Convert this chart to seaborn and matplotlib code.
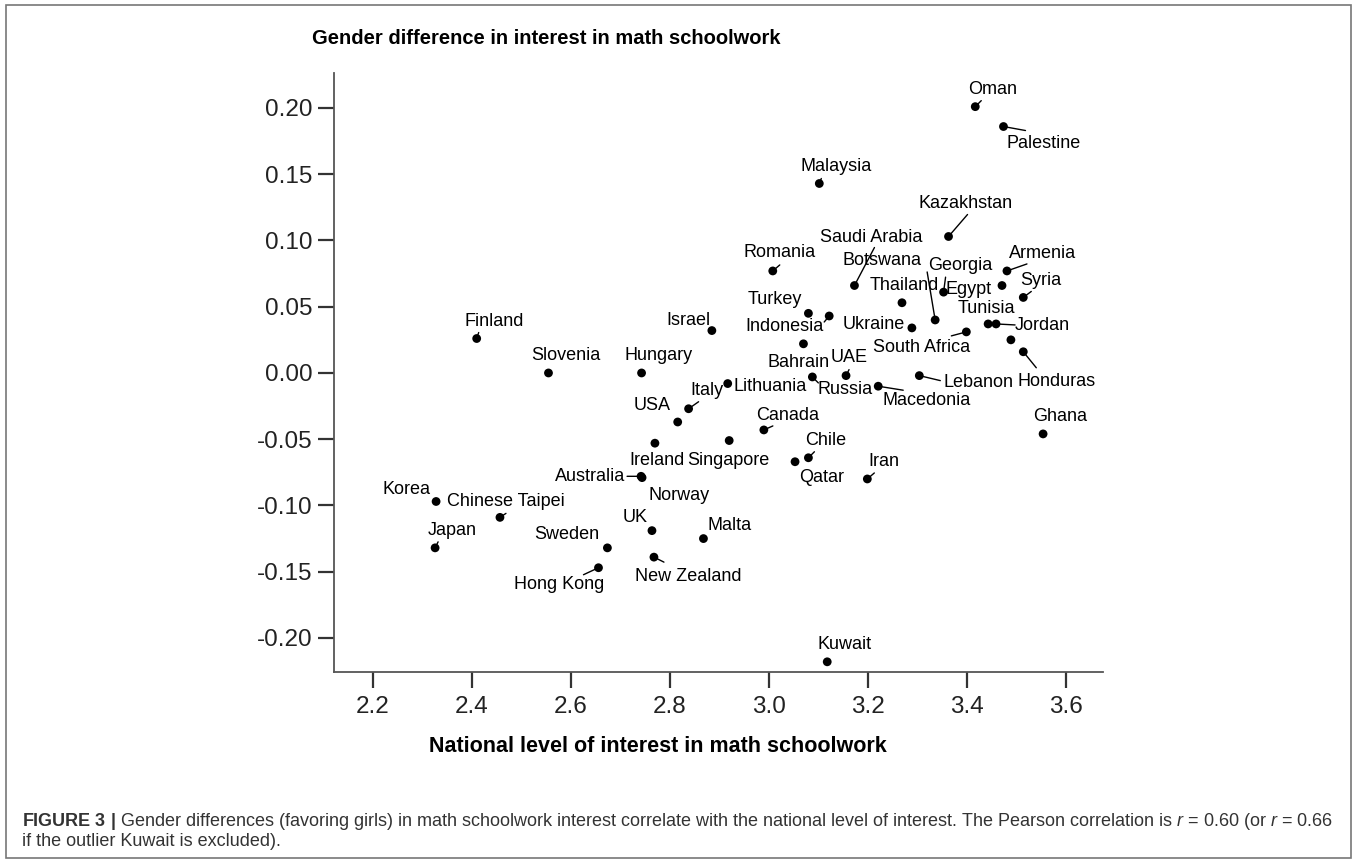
import matplotlib
matplotlib.use("Agg")
import matplotlib.pyplot as plt
import seaborn as sns
import pandas as pd
from matplotlib.patches import Rectangle

# ---------------- data ----------------
countries = [
    "Oman", "Palestine", "Malaysia", "Kazakhstan", "Saudi Arabia", "Romania",
    "Botswana", "Georgia", "Thailand", "Egypt", "Armenia", "Syria", "Turkey",
    "Indonesia", "Ukraine", "Tunisia", "Jordan", "", "South Africa", "Honduras",
    "Lebanon", "Macedonia", "Russia", "UAE", "Bahrain", "Lithuania", "Italy",
    "USA", "Hungary", "Slovenia", "Finland", "Israel", "Canada", "Ireland",
    "Singapore", "Chile", "Qatar", "Iran", "Australia", "Norway", "Korea",
    "Chinese Taipei", "Japan", "Sweden", "Hong Kong", "UK", "New Zealand",
    "Malta", "Ghana", "Kuwait",
]
national_interest = [
    3.417, 3.474, 3.102, 3.363, 3.173, 3.008,
    3.336, 3.353, 3.269, 3.471, 3.481, 3.514, 3.080,
    3.122, 3.289, 3.443, 3.459, 3.489, 3.399, 3.514,
    3.304, 3.221, 3.088, 3.156, 3.070, 2.917, 2.838,
    2.816, 2.743, 2.555, 2.410, 2.885, 2.990, 2.770,
    2.920, 3.080, 3.053, 3.199, 2.742, 2.744, 2.328,
    2.457, 2.326, 2.674, 2.656, 2.764, 2.768,
    2.868, 3.554, 3.118,
]
gender_difference = [
    0.201, 0.186, 0.143, 0.103, 0.066, 0.077,
    0.040, 0.061, 0.053, 0.066, 0.077, 0.057, 0.045,
    0.043, 0.034, 0.037, 0.037, 0.025, 0.031, 0.016,
    -0.002, -0.010, -0.003, -0.002, 0.022, -0.008, -0.027,
    -0.037, 0.000, 0.000, 0.026, 0.032, -0.043, -0.053,
    -0.051, -0.064, -0.067, -0.080, -0.078, -0.079, -0.097,
    -0.109, -0.132, -0.132, -0.147, -0.119, -0.139,
    -0.125, -0.046, -0.218,
]

x_ticks = [2.2, 2.4, 2.6, 2.8, 3.0, 3.2, 3.4, 3.6]
y_ticks = [-0.20, -0.15, -0.10, -0.05, 0.00, 0.05, 0.10, 0.15, 0.20]

title_text = "Gender difference in interest in math schoolwork"
x_label_text = "National level of interest in math schoolwork"
caption_line1 = (r"$\mathbf{FIGURE\ 3\ |}$ Gender differences (favoring girls) in math schoolwork "
                 r"interest correlate with the national level of interest. The Pearson correlation "
                 r"is $r$ = 0.60 (or $r$ = 0.66")
caption_line2 = "if the outlier Kuwait is excluded)."

# ---------------- label layout (pixel offsets: dx right, dy down) ----------------
default_offset = (17, -17)
label_offsets = {
    "Oman": (17.5, -17.5), "Palestine": (40, 17), "Kazakhstan": (17, -33),
    "Saudi Arabia": (17, -48), "Romania": (7, -18), "Botswana": (-53, -59),
    "Georgia": (17, -27), "Thailand": (2, -17), "Egypt": (-33, 3.5),
    "Armenia": (36, -17), "Turkey": (-34, -14), "Indonesia": (-45, 11),
    "Ukraine": (-38, -3), "Tunisia": (-1.5, -15.5), "Jordan": (46, 2),
    "South Africa": (-44.5, 16), "Honduras": (33, 30), "Lebanon": (59, 6.5),
    "Macedonia": (48, 14), "Russia": (33, 13), "UAE": (3.5, -18.5),
    "Bahrain": (-5, 18.5), "Lithuania": (42, 3), "Italy": (18, -18),
    "USA": (-25.5, -16), "Israel": (-23, -10), "Canada": (24, -14.5),
    "Ireland": (2, 17), "Singapore": (-1, 19.5), "Qatar": (26.5, 16),
    "Australia": (-50.5, 0.5), "Norway": (37.5, 18), "UK": (-17, -13),
    "Malta": (26, -13.5), "New Zealand": (34, 19), "Sweden": (-41, -13),
    "Hong Kong": (-39, 17), "Korea": (-30, -11.7), "Chinese Taipei": (6, -16),
}
leader_ends = {
    "Oman": (6, -6), "Palestine": (22, 4), "Kazakhstan": (19, -22),
    "Saudi Arabia": (20, -38), "Romania": (7, -6), "Botswana": (-8, -48),
    "Georgia": (2, -15), "Armenia": (20, -7), "Syria": (8, -6),
    "Indonesia": (-5, 6), "Jordan": (19, 1), "South Africa": (-15, 4),
    "Honduras": (13, 16), "Lebanon": (21, 5), "Macedonia": (25, 4),
    "Russia": (6, 6), "UAE": (3, -6), "Italy": (10, -7), "Canada": (9, -4),
    "Chile": (6, -6), "Iran": (7, -6), "Australia": (-14, 0),
    "New Zealand": (10, 5), "Hong Kong": (-15, 7), "Japan": (3, -6),
    "Chinese Taipei": (6, -4), "Finland": (2, -6), "Malaysia": (2, -5),
}

# ---------------- style ----------------
sns.set_style("ticks")
plt.rcParams['font.family'] = ['Liberation Sans', 'DejaVu Sans']
plt.rcParams['axes.unicode_minus'] = False
plt.rcParams['mathtext.fontset'] = 'custom'
plt.rcParams['mathtext.rm'] = 'Liberation Sans'
plt.rcParams['mathtext.it'] = 'Liberation Sans:italic'
plt.rcParams['mathtext.bf'] = 'Liberation Sans:bold'

W, H = 1357, 864
fig = plt.figure(figsize=(W / 100, H / 100), dpi=100)
fig.patch.set_facecolor("white")
ax = fig.add_axes([334 / W, 1 - 672 / H, (1103 - 334) / W, (672 - 73) / H])

df = pd.DataFrame({"country": countries, "interest": national_interest,
                   "diff": gender_difference})
sns.scatterplot(data=df, x="interest", y="diff", color="black", s=40,
                edgecolor="none", linewidth=0, ax=ax, legend=False, zorder=3)

ax.set_xlim(2.1218, 3.675)
ax.set_ylim(-0.2257, 0.2264)
ax.set_xticks(x_ticks)
ax.set_xticklabels([f"{v:.1f}" for v in x_ticks])
ax.set_yticks(y_ticks)
ax.set_yticklabels([f"{v:.2f}" for v in y_ticks])
ax.set_xlabel("")
ax.set_ylabel("")
sns.despine(ax=ax)
for s in ("left", "bottom"):
    ax.spines[s].set_color("#555555")
    ax.spines[s].set_linewidth(1.3)
ax.tick_params(direction="out", length=11.5, width=1.6, color="#333333",
               labelsize=17.5, labelcolor="#222222")
ax.tick_params(axis="y", pad=4)
ax.tick_params(axis="x", pad=6)

for name, xv, yv in zip(countries, national_interest, gender_difference):
    if name in leader_ends:
        lx, ly = leader_ends[name]
        ax.annotate("", xy=(xv, yv), xytext=(lx, -ly), textcoords="offset pixels",
                    arrowprops=dict(arrowstyle="-", color="black", lw=1.0,
                                    shrinkA=0, shrinkB=0), zorder=2)
    if not name:
        continue
    dx, dy = label_offsets.get(name, default_offset)
    ax.annotate(name, xy=(xv, yv), xytext=(dx, -dy), textcoords="offset pixels",
                ha="center", va="center", fontsize=13, color="black", zorder=4)

fig.text(312 / W, 1 - 39 / H, title_text, ha="left", va="center",
         fontsize=14.5, fontweight="bold", color="black")
fig.text(658 / W, 1 - 747 / H, x_label_text, ha="center", va="center",
         fontsize=15.5, fontweight="bold", color="black")

fig.text(22 / W, 1 - 826.5 / H, caption_line1, ha="left", va="baseline",
         fontsize=13, color="#333333")
fig.text(22 / W, 1 - 845.5 / H, caption_line2, ha="left", va="baseline",
         fontsize=13, color="#333333")

fig.add_artist(Rectangle((6 / W, 6 / H), (1351 - 6) / W, (859 - 6) / H,
                         transform=fig.transFigure, fill=False,
                         edgecolor="#777777", linewidth=1.2))

fig.savefig("out.png", dpi=100, facecolor="white")
